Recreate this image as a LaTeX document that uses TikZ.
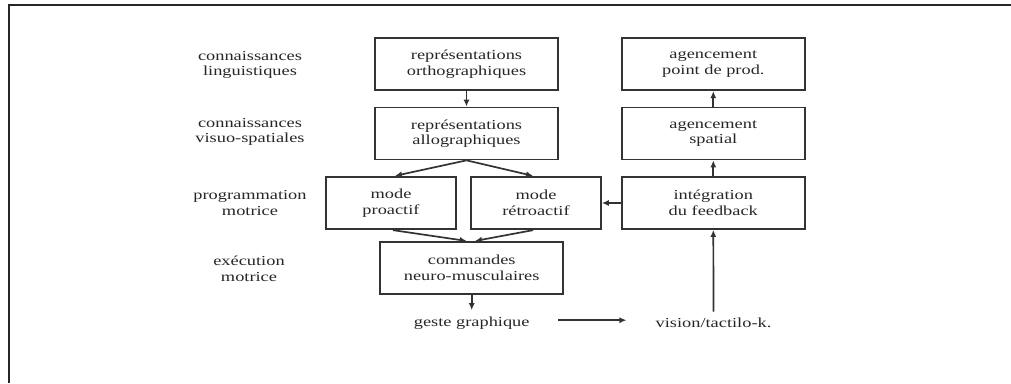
\documentclass[tikz,border=0pt]{standalone}
\usepackage{fontspec}
\newfontfamily\diagfont{Liberation Serif}[FakeStretch=1.33]
\usetikzlibrary{arrows.meta}
\tikzset{
  ink/.style={draw=black!80, line width=1.7pt},
  txt/.style={align=center, inner sep=0pt, text=black!85,
    font=\diagfont\fontsize{13.8}{15.5}\selectfont},
  box/.style={ink, rectangle, txt},
  wide/.style={box, minimum width=183pt, minimum height=52pt},
  narrow/.style={box, minimum width=130pt, minimum height=52.6pt},
  lbl/.style={txt},
  arr/.style={ink, -{Latex[length=7pt,width=6pt]}},
}
\begin{document}
\begin{tikzpicture}[x=1pt, y=-1pt]
\useasboundingbox (0,0) rectangle (1011,383);
% page frame: top and left rules only
\draw[black!85, line width=2pt] (1011,5) -- (8.5,5) -- (8.5,383);

% level labels
\node[lbl] (l1) at (250,65)  {connaissances\\linguistiques};
\node[lbl] (l2) at (250,132) {connaissances\\visuo-spatiales};
\node[lbl] (l3) at (250,203) {programmation\\motrice};
\node[lbl] (l4) at (249,269) {exécution\\motrice};

% left column
\node[wide]   (ortho) at (466.5,64.2)  {représentations\\orthographiques};
\node[wide]   (allo)  at (466.5,133.5) {représentations\\allographiques};
\node[narrow] (pro)   at (391,203)     {mode\\proactif};
\node[narrow] (retro) at (536,203)     {mode\\rétroactif};
\node[wide]   (cmd)   at (471.7,267.8) {commandes\\neuro-musculaires};
\node[lbl]    (geste) at (471.7,322.7) {geste graphique};

% right column
\node[wide]   (prod)  at (713.3,64.2)  {agencement\\point de prod.};
\node[wide]   (spat)  at (713.3,133.5) {agencement\\spatial};
\node[wide]   (integ) at (713.3,203)   {intégration\\du feedback};
\node[lbl]    (vis)   at (713.5,322.7) {vision/tactilo-k.};

% connectors
\draw[arr] (ortho.south) -- (allo.north);
\draw[arr] (allo.south) -- ([xshift=4pt]pro.north);
\draw[arr] (allo.south) -- ([xshift=-3pt]retro.north);
\draw[arr] ([xshift=2pt]pro.south) -- ([xshift=-5pt]cmd.north);
\draw[arr] ([xshift=-3pt]retro.south) -- ([xshift=3.3pt]cmd.north);
\draw[arr] (cmd.south) -- ([yshift=6pt]geste.north);
\draw[arr] ([xshift=28pt,yshift=2.5pt]geste.east) -- ([xshift=-29pt,yshift=2.5pt]vis.west);
\draw[arr] ([yshift=6pt]vis.north) -- (integ.south);
\draw[arr] (integ.west) -- (retro.east);
\draw[arr] (integ.north) -- (spat.south);
\draw[arr] (spat.north) -- (prod.south);
\end{tikzpicture}
\end{document}
